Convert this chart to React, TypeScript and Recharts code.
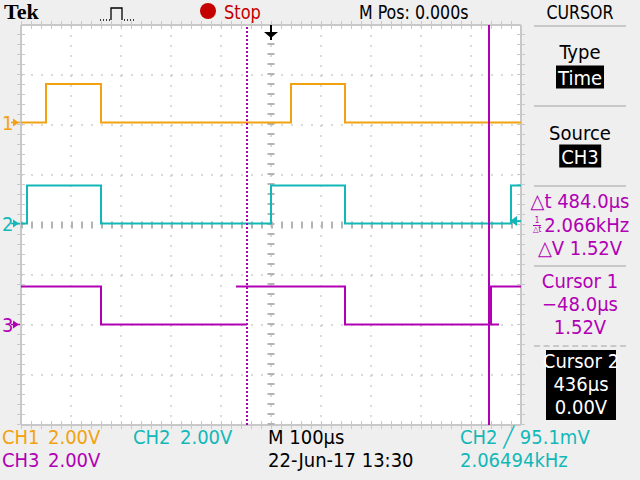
import React from "react";
import {
  CartesianGrid,
  Line,
  LineChart,
  ReferenceDot,
  ReferenceLine,
  XAxis,
  YAxis,
} from "recharts";

// time in microseconds, levels in volts (relative to each channel's ground)
const ch1Time = [-500, -450, -450, -340, -340, 40, 40, 148, 148, 500];
const ch1Volt = [0, 0, 1.54, 1.54, 0, 0, 1.54, 1.54, 0, 0];

const ch2Time = [-500, -488, -488, -340, -340, 0, 0, 148, 148, 480, 480, 500];
const ch2Volt = [0, 0, 1.52, 1.52, 0, 0, 1.52, 1.52, 0, 0, 1.52, 1.52];

const ch3Time = [-500, -340, -340, -48, -48, -70, 148, 148, 456, 456, 440, 440, 500];
const ch3Volt = [1.52, 1.52, 0, 0, null, 1.52, 1.52, 0, 0, null, 0, 1.52, 1.52];

// scope settings
const voltsPerDiv = 2;
const chGround = { ch1: 2.05, ch2: 0.03, ch3: -1.99 }; // divisions
const triggerLevel = 0.0951; // V on CH2
const cursor1 = -48;
const cursor2 = 436;

const xTicks = [-400, -300, -200, -100, 0, 100, 200, 300, 400];
const yTicks = [-3, -2, -1, 0, 1, 2, 3];

const ORANGE = "#f2a210";
const CYAN = "#12b8b8";
const MAGENTA = "#b100b4";
const GRID = "#b4b4b4";
const FONT = "'Liberation Sans Narrow', 'DejaVu Sans Condensed', sans-serif";

const toRows = (time: number[], volt: (number | null)[], ground: number) =>
  time.map((t, i) => ({ t, y: volt[i] === null ? null : ground + (volt[i] as number) / voltsPerDiv }));

const ch1Data = toRows(ch1Time, ch1Volt, chGround.ch1);
const ch2Data = toRows(ch2Time, ch2Volt, chGround.ch2);
const ch3Data = toRows(ch3Time, ch3Volt, chGround.ch3);

const chMarkers = [
  { v: chGround.ch1, label: "1", color: ORANGE },
  { v: chGround.ch2, label: "2", color: CYAN },
  { v: chGround.ch3, label: "3", color: MAGENTA },
];

const ChannelMarker = (props: any) => {
  const { cx, cy, label, color } = props;
  return (
    <g>
      <text x={cx - 19} y={cy} dy={7} fill={color} fontSize={20} fontFamily={FONT}>
        {label}
      </text>
      <line x1={cx - 10} x2={cx - 1} y1={cy} y2={cy} stroke={color} strokeWidth={1.5} />
      <polygon points={`${cx - 8},${cy - 4} ${cx - 2},${cy} ${cx - 8},${cy + 4}`} fill={color} />
    </g>
  );
};

const TrigPosArrow = (props: any) => {
  const { cx, cy } = props;
  return (
    <g>
      <line x1={cx} x2={cx} y1={cy} y2={cy + 15} stroke="#000" strokeWidth={2} />
      <polygon points={`${cx - 7},${cy + 7} ${cx + 7},${cy + 7} ${cx},${cy + 13}`} fill="#000" />
    </g>
  );
};

const TrigLevelArrow = (props: any) => {
  const { cx, cy } = props;
  return (
    <g>
      <line x1={cx - 8} x2={cx} y1={cy} y2={cy} stroke={CYAN} strokeWidth={2} />
      <polygon points={`${cx - 11},${cy} ${cx - 4},${cy - 5} ${cx - 4},${cy + 5}`} fill={CYAN} />
    </g>
  );
};

const T = ({
  x,
  y,
  children,
  color = "#000",
  anchor = "start",
  size = 20,
  bg,
  family = FONT,
  weight = 400,
  sx = 1,
}: any) => (
  <div
    style={{
      position: "absolute",
      left: x,
      top: y,
      transform: `translate(${anchor === "middle" ? "-50%" : "0"}, -50%) scaleX(${sx})`,
      transformOrigin: anchor === "middle" ? "center" : "left center",
      color,
      fontSize: size,
      fontFamily: family,
      fontWeight: weight,
      lineHeight: 1,
      whiteSpace: "nowrap",
      background: bg,
      padding: bg ? "2px 2px 1px" : 0,
    }}
  >
    {children}
  </div>
);

const Sep = ({ y, dashed }: { y: number; dashed?: boolean }) => (
  <div
    style={{
      position: "absolute",
      left: 534,
      top: y - 1,
      width: 92,
      height: 0,
      borderTop: `2px ${dashed ? "dashed" : "solid"} #c8c8c8`,
    }}
  />
);

export default function App() {
  return (
    <div
      style={{
        position: "fixed",
        left: 0,
        top: 0,
        width: 640,
        height: 480,
        background: "#efefef",
        overflow: "hidden",
      }}
    >
      <LineChart width={640} height={480} margin={{ top: 25, right: 119, bottom: 55, left: 21 }}>
        <CartesianGrid fill="#ffffff" stroke={GRID} strokeDasharray="2 8" />
        <XAxis type="number" dataKey="t" domain={[-500, 500]} ticks={xTicks} hide allowDataOverflow />
        <YAxis type="number" domain={[-4, 4]} ticks={yTicks} hide allowDataOverflow />
        {/* graticule frame and tick marks */}
        <ReferenceLine x={-500} stroke="#c8c8c8" strokeWidth={2} />
        <ReferenceLine x={500} stroke="#c8c8c8" strokeWidth={2} />
        <ReferenceLine y={4} stroke="#c8c8c8" strokeWidth={2} />
        <ReferenceLine y={-4} stroke="#c8c8c8" strokeWidth={2} />
        <ReferenceLine x={-500} stroke="#c8c8c8" strokeWidth={8} strokeDasharray="1 9" />
        <ReferenceLine x={500} stroke="#c8c8c8" strokeWidth={8} strokeDasharray="1 9" />
        <ReferenceLine y={4} stroke="#c8c8c8" strokeWidth={8} strokeDasharray="1 9" />
        <ReferenceLine y={-4} stroke="#c8c8c8" strokeWidth={8} strokeDasharray="1 9" />
        <ReferenceLine y={0} stroke={GRID} strokeWidth={7} strokeDasharray="2 8" />
        <ReferenceLine x={0} stroke={GRID} strokeWidth={7} strokeDasharray="2 8" />

        <Line data={ch1Data} dataKey="y" type="linear" stroke={ORANGE} strokeWidth={2} dot={false} isAnimationActive={false} />
        <Line data={ch2Data} dataKey="y" type="linear" stroke={CYAN} strokeWidth={2} dot={false} isAnimationActive={false} />
        <Line data={ch3Data} dataKey="y" type="linear" stroke={MAGENTA} strokeWidth={2} dot={false} isAnimationActive={false} connectNulls={false} />

        <ReferenceLine x={cursor1} stroke={MAGENTA} strokeWidth={2} strokeDasharray="2 2" />
        <ReferenceLine x={cursor2} stroke={MAGENTA} strokeWidth={2} />

        <ReferenceDot x={0} y={4} shape={<TrigPosArrow />} />
        <ReferenceDot x={500} y={chGround.ch2 + triggerLevel / voltsPerDiv} shape={<TrigLevelArrow />} />
        {chMarkers.map((m) => (
          <ReferenceDot
            key={m.label}
            x={-500}
            y={m.v}
            ifOverflow="visible"
            shape={(p: any) => <ChannelMarker {...p} label={m.label} color={m.color} />}
          />
        ))}
      </LineChart>

      {/* top status bar */}
      <T x={4} y={12} size={22} weight={700} family="'Liberation Serif', serif">Tek</T>
      <svg style={{ position: "absolute", left: 98, top: 4 }} width={40} height={18}>
        <path
          d="M2 16h1M5 16h1M8 16h1M11 16h1M13 16V4h11v12M26 16h1M29 16h1M32 16h1M35 16h1"
          stroke="#000"
          strokeWidth={1.3}
          fill="none"
        />
      </svg>
      <div style={{ position: "absolute", left: 200, top: 3, width: 16, height: 16, borderRadius: 8, background: "#c40000" }} />
      <T x={224} y={12} color="#c40000" sx={0.9}>Stop</T>
      <T x={359} y={12} sx={0.88}>M Pos: 0.000s</T>
      <T x={580} y={12} anchor="middle" sx={0.88}>CURSOR</T>

      {/* right menu */}
      <Sep y={26} />
      <T x={580} y={52} anchor="middle">Type</T>
      <T x={580} y={77} anchor="middle" color="#fff" bg="#000">Time</T>
      <Sep y={106} />
      <T x={580} y={133} anchor="middle">Source</T>
      <T x={580} y={156} anchor="middle" color="#fff" bg="#000">CH3</T>
      <Sep y={186} />
      <T x={580} y={201} anchor="middle" color={MAGENTA}>△t 484.0µs</T>
      <div
        style={{
          position: "absolute",
          left: 536,
          top: 225,
          transform: "translateY(-50%)",
          width: 90,
          color: MAGENTA,
          fontFamily: FONT,
          fontSize: 20,
          display: "flex",
          alignItems: "center",
          justifyContent: "center",
          gap: 3,
          lineHeight: 1,
        }}
      >
        <span style={{ display: "inline-flex", flexDirection: "column", alignItems: "center", fontSize: 8 }}>
          <span style={{ borderBottom: `1px solid ${MAGENTA}`, padding: "0 2px" }}>1</span>
          <span>△t</span>
        </span>
        <span>2.066kHz</span>
      </div>
      <T x={580} y={248} anchor="middle" color={MAGENTA}>△V 1.52V</T>
      <Sep y={266} />
      <T x={580} y={281} anchor="middle" color={MAGENTA}>Cursor 1</T>
      <T x={580} y={304} anchor="middle" color={MAGENTA}>−48.0µs</T>
      <T x={580} y={327} anchor="middle" color={MAGENTA}>1.52V</T>
      <Sep y={346} dashed />
      <div style={{ position: "absolute", left: 546, top: 350, width: 70, height: 70, background: "#000" }} />
      <T x={581} y={361} anchor="middle" color="#fff">Cursor 2</T>
      <T x={581} y={384} anchor="middle" color="#fff">436µs</T>
      <T x={581} y={407} anchor="middle" color="#fff">0.00V</T>

      {/* bottom status */}
      <T x={2} y={437} color={ORANGE}>CH1</T>
      <T x={48} y={437} color={ORANGE}>2.00V</T>
      <T x={133} y={437} color={CYAN}>CH2</T>
      <T x={180} y={437} color={CYAN}>2.00V</T>
      <T x={268} y={437}>M 100µs</T>
      <T x={460} y={437} color={CYAN}>CH2 ╱ 95.1mV</T>
      <T x={2} y={460} color={MAGENTA}>CH3</T>
      <T x={48} y={460} color={MAGENTA}>2.00V</T>
      <T x={268} y={460}>22-Jun-17 13:30</T>
      <T x={460} y={460} color={CYAN}>2.06494kHz</T>
    </div>
  );
}
